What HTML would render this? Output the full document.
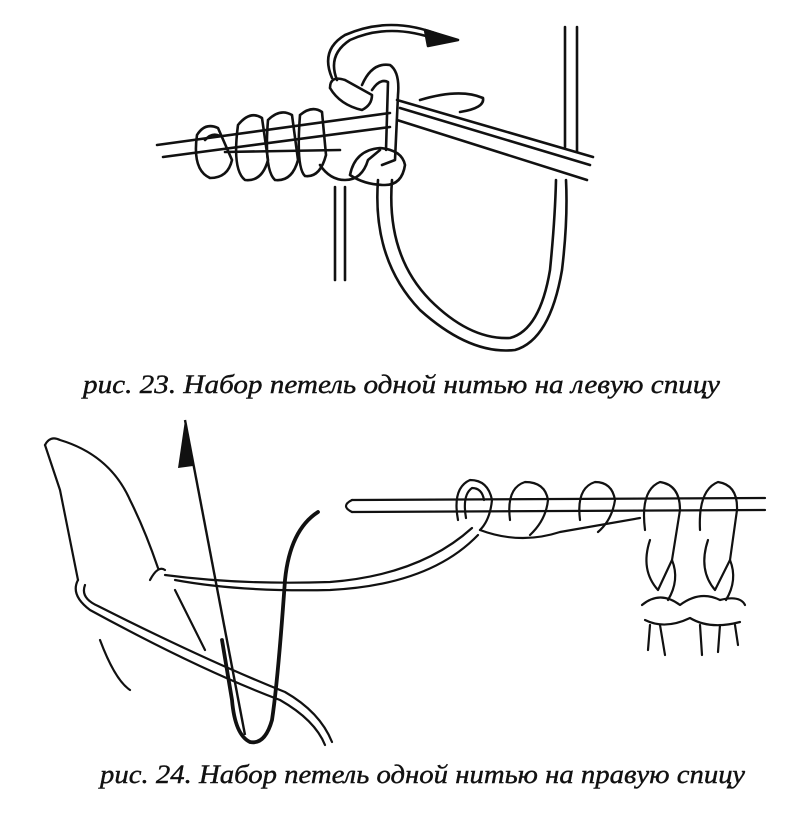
<!DOCTYPE html>
<html><head><meta charset="utf-8"><style>
html,body{margin:0;padding:0;background:#fff;}
svg{display:block}
</style></head><body>
<svg width="800" height="814" viewBox="0 0 800 814" xmlns="http://www.w3.org/2000/svg">
<g fill="none" stroke="#111" stroke-width="2.6" stroke-linecap="round" stroke-linejoin="round">
<!-- FIG 23 -->
<path d="M157 145 L390 113"/><path d="M163 157 L390 127"/>
<path d="M397 100 L593 157"/><path d="M397 120 L587 180"/><path d="M400 108 L590 165"/>
<path d="M420 100 Q460 88 483 98 Q485 108 460 112"/>
<path d="M565 27 L565 147"/><path d="M577 27 L577 152"/>
<path d="M378 180 Q372 260 420 310 Q470 355 515 350 Q550 340 562 270 Q568 220 566 180"/>
<path d="M392 180 Q386 255 430 300 Q470 340 510 338 Q540 330 550 270 Q555 220 556 180"/>
<path d="M335 187 L335 280"/><path d="M345 187 L345 280"/>
<path d="M332 78 Q320 50 345 35 Q390 15 440 35"/>
<path d="M337 80 Q327 55 350 40 Q390 22 438 40"/>
<path d="M425 30 L458 40 L428 46 Z" fill="#111"/>
<path d="M197 135 Q205 122 218 128 L232 160 Q228 178 210 178 Q192 170 197 135"/>
<path d="M205 140 Q212 132 220 136"/>
<path d="M238 125 Q250 110 262 118 L268 160 Q262 182 245 180 Q232 170 238 125"/>
<path d="M268 120 Q280 108 292 115 L298 160 Q292 182 275 180 Q264 170 268 120"/>
<path d="M300 115 Q312 105 322 112 L326 155 Q320 178 305 176 Q296 168 300 115"/>
<path d="M320 165 Q330 180 345 180 Q362 180 368 160 L380 150"/>
<path d="M350 175 Q355 150 380 148 Q402 150 405 165 Q402 185 385 185 Q365 185 350 175"/>
<path d="M362 85 Q372 62 390 65 Q400 72 398 95 L395 160 L382 165"/>
<path d="M372 90 Q380 78 388 82 L386 150"/>
<path d="M330 88 Q330 75 345 80 L372 95 Q372 105 362 110 Q340 105 330 88"/>
<path d="M225 152 L340 150"/>
</g>
<text x="83" y="393" font-family="'Liberation Serif',serif" font-style="italic" font-size="26" textLength="637" lengthAdjust="spacingAndGlyphs" fill="#111" stroke="#111" stroke-width="0.4">рис. 23. Набор петель одной нитью на левую спицу</text>

<!-- FIG 24 -->
<g fill="none" stroke="#111" stroke-width="2.2" stroke-linecap="round" stroke-linejoin="round">
<path d="M352 500 L765 498"/><path d="M352 512 L765 510"/>
<path d="M352 500 Q340 506 352 512"/>
<path d="M458 520 Q452 488 470 480 Q488 480 492 500 Q490 520 480 530"/>
<path d="M466 518 Q462 495 472 488 Q482 488 484 500"/>
<path d="M510 520 Q506 488 525 482 Q545 482 548 500 Q546 520 530 535"/>
<path d="M580 520 Q576 488 595 482 Q612 482 615 500 Q612 520 598 532"/>
<path d="M645 530 Q640 490 660 482 Q680 485 680 510 L672 560"/>
<path d="M700 530 Q698 490 718 482 Q738 485 737 510 L730 560"/>
<path d="M480 530 Q520 545 560 532 Q600 525 640 518"/>
<path d="M650 540 Q640 570 658 590 L672 560 Q680 580 668 600"/>
<path d="M708 540 Q698 570 715 590 L730 560 Q738 580 726 600"/>
<path d="M642 605 Q660 590 680 605 Q700 590 720 600 Q740 595 745 605"/>
<path d="M645 620 Q665 630 690 618 Q710 630 740 622"/>
<path d="M650 625 L648 650 M660 625 L665 655 M700 625 L702 655 M720 625 L718 652 M735 625 L738 645"/>
<path d="M472 528 Q420 575 330 582 Q240 585 165 575"/>
<path d="M478 535 Q430 585 330 590 Q240 592 175 580"/>
<path d="M150 580 Q158 565 165 570"/>
<path d="M45 445 Q50 435 60 440 Q110 455 130 500 Q145 530 158 568"/>
<path d="M45 445 L60 490 L78 580"/>
<path d="M100 640 Q115 680 130 690"/>
<path d="M175 590 Q185 610 205 650"/>
<path d="M78 580 Q70 595 90 610 Q200 670 280 700 Q315 720 325 745"/>
<path d="M85 585 Q80 598 98 606 Q205 660 285 692 Q320 712 332 742"/>
</g>
<path d="M185 420 L245 735" stroke="#111" stroke-width="2.4" fill="none"/>
<path d="M185 420 L178 468 L193 466 Z" fill="#111"/>
<path d="M318 512 Q290 530 285 580 Q278 680 272 720 Q265 745 250 742 Q235 735 232 700 L222 640" stroke="#111" stroke-width="3.8" fill="none" stroke-linecap="round"/>
<text x="100" y="783" font-family="'Liberation Serif',serif" font-style="italic" font-size="26" textLength="645" lengthAdjust="spacingAndGlyphs" fill="#111" stroke="#111" stroke-width="0.4">рис. 24. Набор петель одной нитью на правую спицу</text>
</svg>
</body></html>
